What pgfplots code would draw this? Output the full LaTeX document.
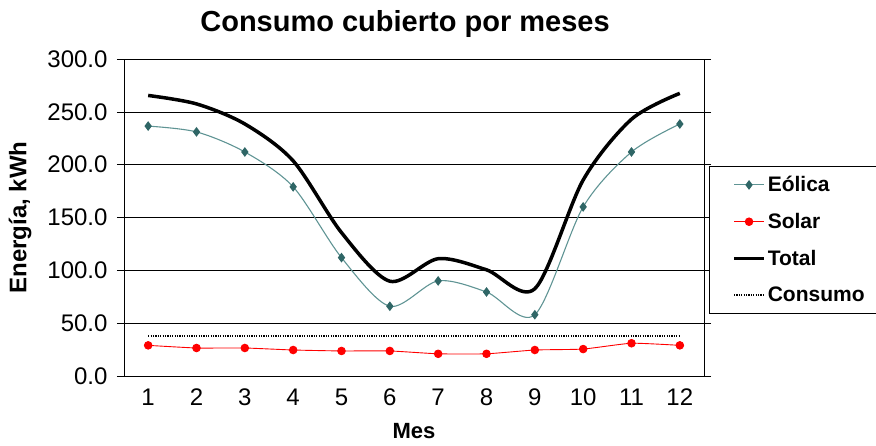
\documentclass[border=0pt]{standalone}
\usepackage{pgfplots}
\pgfplotsset{compat=1.18}
\usepackage{fontspec}
\setmainfont{Liberation Sans}
\definecolor{eolline}{RGB}{95,148,148}
\definecolor{eolmark}{RGB}{47,102,102}
\begin{document}
\begin{tikzpicture}
\begin{axis}[
  name=ax,
  scale only axis,
  width=580bp, height=317bp,
  xmin=0.5, xmax=12.5,
  ymin=0, ymax=300,
  ytick={0,50,...,300},
  xtick={1,...,12},
  xtick style={draw=none},
  extra x ticks={0.5,1.5,...,12.5},
  extra x tick labels={},
  extra x tick style={tick style={draw=black}},
  tick align=outside,
  major tick length=7bp,
  tick style={black, line width=0.6pt},
  ymajorgrids,
  grid style={black, line width=0.6pt},
  axis line style={black, line width=0.8pt},
  /pgf/number format/assume math mode=true,
  yticklabel style={/pgf/number format/fixed, /pgf/number format/fixed zerofill, /pgf/number format/precision=1, xshift=-6bp},
  xticklabel style={yshift=-2bp},
  ticklabel style={font=\fontsize{24bp}{26bp}\selectfont},
  title={Consumo cubierto por meses},
  title style={font=\fontsize{29bp}{31bp}\selectfont\bfseries, yshift=12bp, xshift=-9bp},
  xlabel={Mes},
  ylabel={Energía, kWh},
  label style={font=\fontsize{22bp}{24bp}\selectfont\bfseries},
  xlabel style={yshift=3bp},
  ylabel style={yshift=9bp, font=\fontsize{24bp}{26bp}\selectfont\bfseries},
  legend style={at={(1,0.43)}, anchor=west, xshift=5bp, draw=black, line width=0.6pt,
    font=\fontsize{21bp}{23bp}\selectfont\bfseries, row sep=16bp, inner xsep=14bp, inner ysep=8bp},
  legend cell align=left,
  legend image code/.code={\path (-9bp,0bp) (30bp,0bp);\draw[mark repeat=2,mark phase=2,#1] plot coordinates {(0bp,0bp) (15bp,0bp) (30bp,0bp)};},
  clip=false,
]
\addplot[color=eolline, line width=1.1pt, smooth, tension=0.5, mark=diamond*, mark size=4bp,
  mark options={fill=eolmark, draw=eolmark}] coordinates {
  (1,236.5) (2,231) (3,212) (4,179) (5,112) (6,66) (7,90) (8,79.5) (9,58) (10,160) (11,212) (12,238.5)};
\addlegendentry{Eólica}
\addplot[color=red, line width=0.9pt, smooth, tension=0.3, mark=*, mark size=3.8bp,
  mark options={fill=red}] coordinates {
  (1,29) (2,26.5) (3,26.5) (4,24.6) (5,23.7) (6,23.7) (7,21) (8,21) (9,24.6) (10,25.5) (11,31) (12,29)};
\addlegendentry{Solar}
\addplot[color=black, line width=3.5bp, smooth, tension=0.5] coordinates {
  (1,265.5) (2,257.5) (3,238.5) (4,203.6) (5,135.7) (6,89.7) (7,111) (8,100.5) (9,82.6) (10,185.5) (11,243) (12,267.5)};
\addlegendentry{Total}
\addplot[color=black, line width=1.8bp, dash pattern=on 1.2bp off 1.2bp] coordinates {
  (1,38) (12,38)};
\addlegendentry{Consumo}
\end{axis}
\pgfresetboundingbox
\path ([shift={(-124bp,-70bp)}]ax.south west) rectangle ([shift={(172bp,59bp)}]ax.north east);
\end{tikzpicture}
\end{document}
